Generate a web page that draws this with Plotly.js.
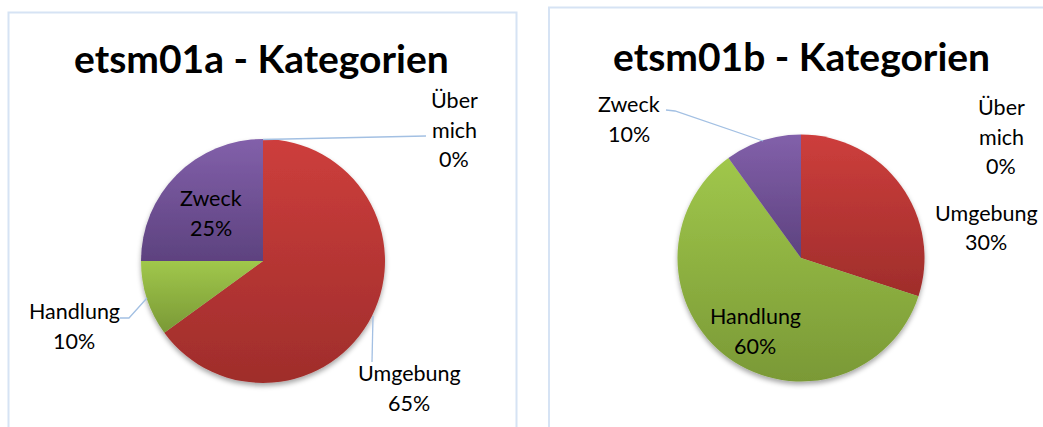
<!DOCTYPE html>
<html>
<head>
<meta charset="utf-8">
<script src="https://cdn.plot.ly/plotly-3.0.1.min.js"></script>
<style>
  html, body { margin: 0; padding: 0; background: #ffffff; }
  #chart { width: 1043px; height: 427px; }
</style>
</head>
<body>
<div id="chart"></div>
<script>
// ---- data ----
const categories = ['Über mich', 'Umgebung', 'Handlung', 'Zweck'];
const valuesA = [0, 65, 10, 25];
const valuesB = [0, 30, 60, 10];
const titles = ['etsm01a - Kategorien', 'etsm01b - Kategorien'];

// ---- styles ----
const W = 1043, H = 427;
const baseColors = ['#4F81BD', '#C0504D', '#9BBB59', '#8064A2'];
const gradStops = [
  ['#5A8CCB', '#3E6A9F'],
  ['#CD3E3C', '#9F2D2B'],
  ['#A0C74B', '#7A9936'],
  ['#8260AA', '#5D427F']
];
const FONT = 'Lato, "Open Sans", sans-serif';
const LINE = 29.5;

// pie placement in pixels (center x, center y, radius)
const pies = [
  { cx: 263, cy: 261, r: 122 },
  { cx: 801, cy: 258, r: 123.5 }
];

// label placement in pixels: center x, y of first line
const labelPos = [
  [ { x: 454, y: 100 }, { x: 409, y: 373 }, { x: 74, y: 311 }, { x: 211, y: 198 } ],
  [ { x: 1001, y: 107 }, { x: 986, y: 213 }, { x: 755, y: 316 }, { x: 629, y: 104 } ]
];
// leader lines in pixels (per chart, per category; null = none)
const leaders = [
  [ [[263, 139.5], [426, 136]], [[373, 316], [372, 362]], [[147, 298], [129, 318], [120, 318]], null ],
  [ null, null, null, [[763, 141], [675, 111], [666, 110]] ]
];
const titlePos = [ { x: 261, y: 58 }, { x: 801, y: 56 } ];

const px = x => x / W;
const py = y => 1 - y / H;

const valueSets = [valuesA, valuesB];
const data = valueSets.map((vals, k) => {
  const p = pies[k];
  return {
    type: 'pie',
    labels: categories,
    values: vals,
    sort: false,
    direction: 'clockwise',
    rotation: 0,
    textinfo: 'none',
    hoverinfo: 'skip',
    showlegend: false,
    marker: { colors: baseColors, line: { width: 0 } },
    domain: { x: [px(p.cx - p.r), px(p.cx + p.r)], y: [py(p.cy + p.r), py(p.cy - p.r)] }
  };
});

const annotations = [];
titles.forEach((t, k) => {
  annotations.push({
    xref: 'paper', yref: 'paper', x: px(titlePos[k].x), y: py(titlePos[k].y),
    xanchor: 'center', yanchor: 'middle', showarrow: false, text: '<b>' + t + '</b>',
    font: { family: FONT, size: 39, color: '#000000' }
  });
});
valueSets.forEach((vals, k) => {
  const sum = vals.reduce((a, b) => a + b, 0);
  categories.forEach((c, i) => {
    const pct = Math.round(vals[i] / sum * 100) + '%';
    const lines = c.split(' ').concat([pct]);
    lines.forEach((ln, j) => {
      annotations.push({
        xref: 'paper', yref: 'paper',
        x: px(labelPos[k][i].x), y: py(labelPos[k][i].y + j * LINE),
        xanchor: 'center', yanchor: 'middle', showarrow: false, text: ln,
        font: { family: FONT, size: 21.5, color: '#000000' }
      });
    });
  });
});

const shapes = [
  { type: 'rect', xref: 'paper', yref: 'paper', x0: px(8.5), x1: px(516.5), y0: py(440), y1: py(12.5),
    line: { color: '#D6E3F4', width: 2 }, fillcolor: 'rgba(0,0,0,0)', layer: 'below' },
  { type: 'rect', xref: 'paper', yref: 'paper', x0: px(549), x1: px(1060), y0: py(440), y1: py(7.5),
    line: { color: '#D6E3F4', width: 2 }, fillcolor: 'rgba(0,0,0,0)', layer: 'below' }
];
leaders.forEach(chart => chart.forEach(pts => {
  if (!pts) return;
  const path = pts.map((p, j) => (j ? 'L' : 'M') + px(p[0]) + ',' + py(p[1])).join(' ');
  shapes.push({ type: 'path', xref: 'paper', yref: 'paper', path: path,
    line: { color: '#A3C0E3', width: 1.3 } });
}));

const layout = {
  width: W, height: H,
  margin: { l: 0, r: 0, t: 0, b: 0 },
  paper_bgcolor: '#ffffff',
  showlegend: false,
  annotations: annotations,
  shapes: shapes
};

function hexToRgb(h) {
  const n = parseInt(h.slice(1), 16);
  return 'rgb(' + ((n >> 16) & 255) + ', ' + ((n >> 8) & 255) + ', ' + (n & 255) + ')';
}

Plotly.newPlot('chart', data, layout, { staticPlot: true, displayModeBar: false }).then(gd => {
  const ns = 'http://www.w3.org/2000/svg';
  const svg = gd.querySelector('svg.main-svg');
  let defs = svg.querySelector('defs');
  if (!defs) { defs = document.createElementNS(ns, 'defs'); svg.insertBefore(defs, svg.firstChild); }
  baseColors.forEach((c, i) => {
    const g = document.createElementNS(ns, 'linearGradient');
    g.setAttribute('id', 'pieGrad' + i);
    g.setAttribute('x1', '0'); g.setAttribute('y1', '0');
    g.setAttribute('x2', '0'); g.setAttribute('y2', '1');
    [[0, gradStops[i][0]], [1, gradStops[i][1]]].forEach(s => {
      const st = document.createElementNS(ns, 'stop');
      st.setAttribute('offset', s[0]);
      st.setAttribute('stop-color', s[1]);
      g.appendChild(st);
    });
    defs.appendChild(g);
  });
  const f = document.createElementNS(ns, 'filter');
  f.setAttribute('id', 'pieShadow');
  f.setAttribute('x', '-20%'); f.setAttribute('y', '-20%');
  f.setAttribute('width', '140%'); f.setAttribute('height', '140%');
  const ds = document.createElementNS(ns, 'feDropShadow');
  ds.setAttribute('dx', '0'); ds.setAttribute('dy', '3');
  ds.setAttribute('stdDeviation', '2.5');
  ds.setAttribute('flood-color', '#000000');
  ds.setAttribute('flood-opacity', '0.35');
  f.appendChild(ds);
  defs.appendChild(f);

  const rgbs = baseColors.map(hexToRgb);
  gd.querySelectorAll('.pielayer .slice path.surface').forEach(p => {
    const d = p.__data__;
    let idx = (d && typeof d.i === 'number') ? d.i : rgbs.indexOf(p.style.fill);
    if (idx >= 0) p.style.fill = 'url(#pieGrad' + idx + ')';
  });
  gd.querySelectorAll('.pielayer .trace').forEach(t => t.setAttribute('filter', 'url(#pieShadow)'));
});
</script>
</body>
</html>
